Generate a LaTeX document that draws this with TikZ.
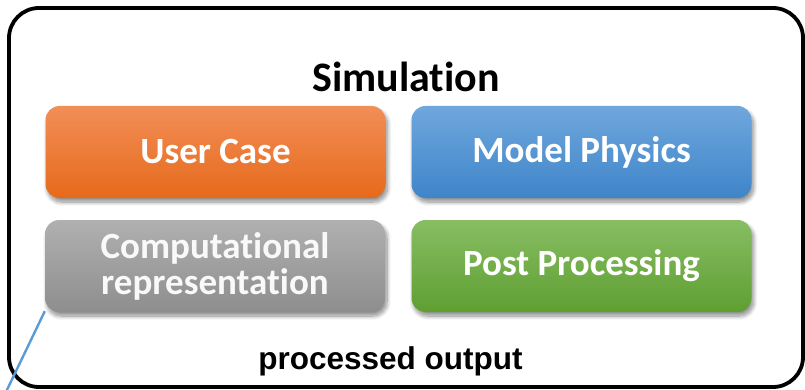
\documentclass[tikz,border=0pt]{standalone}
\usepackage{fontspec}
\usetikzlibrary{shadows.blur}
\newfontfamily\calfont[Ligatures=NoCommon]{Carlito}
\newfontfamily\arialfont{Liberation Sans}
\definecolor{orangeTop}{HTML}{F28E57}
\definecolor{orangeBot}{HTML}{E66A1B}
\definecolor{blueTop}{HTML}{6FA7DD}
\definecolor{blueBot}{HTML}{3F85C9}
\definecolor{grayTop}{HTML}{B0B0B0}
\definecolor{grayBot}{HTML}{8E8E8E}
\definecolor{greenTop}{HTML}{88BD64}
\definecolor{greenBot}{HTML}{5E9F31}
\definecolor{linkBlue}{HTML}{5B9BD5}
\tikzset{
  tile/.style={rectangle, rounded corners=14pt, inner sep=0pt,
    minimum width=340pt, minimum height=92pt, text=white, align=center,
    font=\calfont\bfseries\fontsize{37}{36}\selectfont,
    blur shadow={shadow xshift=2pt, shadow yshift=-4pt, shadow blur steps=10,
      shadow blur radius=4pt, shadow opacity=45}},
  frame/.style={draw=black, line width=3.8pt, rounded corners=30pt}
}
\begin{document}
\begin{tikzpicture}[x=1pt, y=-1pt]
\useasboundingbox (0,0) rectangle (805,390);
% outer simulation frame
\draw[frame] (9,8) rectangle (803,387);
\node[anchor=base, font=\calfont\bfseries\fontsize{42}{42}\selectfont] (title) at (406,92) {Simulation};
% four component tiles
\node[tile, top color=orangeTop, bottom color=orangeBot] (user) at (215.5,152) {\raisebox{-2pt}{User Case}};
\node[tile, top color=blueTop, bottom color=blueBot] (model) at (581.5,152) {\raisebox{-2pt}{Model Physics}};
\node[tile, top color=grayTop, bottom color=grayBot, text=white!95!gray] (comp) at (215,266) {\raisebox{-2pt}{Computational}\\\raisebox{-2pt}{representation}};
\node[tile, top color=greenTop, bottom color=greenBot] (post) at (581.5,266) {\raisebox{-2pt}{Post Processing}};
\node[anchor=base, font=\arialfont\bfseries\fontsize{31.5}{31.5}\selectfont] (out) at (390.5,369) {processed output};
% link leaving the computational tile
\coordinate (linkEnd) at (5,394);
\draw[linkBlue, line width=2.4pt] (comp.south west) ++(0,-1) -- (linkEnd);
\end{tikzpicture}
\end{document}
